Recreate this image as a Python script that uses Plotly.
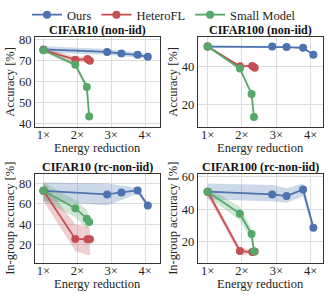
import plotly.graph_objects as go

# ---------------- data ----------------
ours_x = [1.0, 2.88, 3.30, 3.78, 4.08]
hetero_x = [1.0, 1.94, 2.30, 2.37]
small_x = [1.0, 1.94, 2.28, 2.35]

# CIFAR10 (non-iid)
c10_ours = [75.3, 74.1, 73.3, 72.7, 71.8]
c10_ours_lo = [73.8, 72.7, 72.0, 71.5, 70.8]
c10_ours_hi = [76.8, 75.5, 74.6, 73.9, 72.8]
c10_het = [75.0, 70.4, 70.7, 69.9]
c10_het_lo = [74.0, 69.0, 69.4, 69.0]
c10_het_hi = [76.0, 71.8, 72.0, 70.8]
c10_small = [74.9, 68.0, 57.4, 43.4]
c10_small_lo = [74.2, 67.0, 56.0, 42.8]
c10_small_hi = [75.6, 69.0, 58.8, 44.0]

# CIFAR100 (non-iid)
c100_ours = [50.3, 50.3, 50.0, 49.6, 46.0]
c100_ours_lo = [49.8, 49.8, 49.5, 49.1, 45.4]
c100_ours_hi = [50.8, 50.8, 50.5, 50.1, 46.6]
c100_het = [50.3, 40.0, 40.2, 39.3]
c100_het_lo = [49.8, 39.4, 39.6, 38.7]
c100_het_hi = [50.8, 40.6, 40.8, 39.9]
c100_small = [50.3, 38.8, 25.6, 13.5]
c100_small_lo = [49.8, 38.0, 24.8, 12.8]
c100_small_hi = [50.8, 39.6, 26.4, 14.2]

# CIFAR10 (rc-non-iid)
c10rc_ours = [72.9, 69.4, 71.3, 73.3, 58.5]
c10rc_ours_lo = [63.0, 58.5, 64.0, 70.0, 56.0]
c10rc_ours_hi = [81.0, 80.0, 78.0, 76.0, 61.0]
c10rc_het = [72.9, 25.8, 25.5, 25.5]
c10rc_het_lo = [63.0, 14.0, 10.0, 10.0]
c10rc_het_hi = [81.0, 40.0, 38.0, 37.0]
c10rc_small = [72.9, 55.9, 45.6, 42.4]
c10rc_small_lo = [63.0, 47.0, 36.0, 38.0]
c10rc_small_hi = [81.0, 64.0, 54.0, 47.0]

# CIFAR100 (rc-non-iid)
c100rc_ours = [50.9, 49.2, 48.2, 52.3, 28.5]
c100rc_ours_lo = [46.0, 45.0, 44.0, 48.0, 26.0]
c100rc_ours_hi = [56.0, 55.0, 53.0, 56.0, 31.0]
c100rc_het = [50.9, 14.1, 13.5, 13.9]
c100rc_het_lo = [48.0, 12.0, 12.0, 12.5]
c100rc_het_hi = [53.5, 16.0, 15.0, 15.5]
c100rc_small = [50.9, 37.3, 24.7, 13.9]
c100rc_small_lo = [48.0, 33.0, 21.0, 12.5]
c100rc_small_hi = [53.5, 41.5, 28.0, 15.0]

x_ticks = [1, 2, 3, 4]
x_tick_labels = ["1×", "2×", "3×", "4×"]
titles = ["CIFAR10 (non-iid)", "CIFAR100 (non-iid)", "CIFAR10 (rc-non-iid)", "CIFAR100 (rc-non-iid)"]
x_title = "Energy reduction"
y_titles = ["Accuracy [%]", "Accuracy [%]", "In-group accuracy [%]", "In-group accuracy [%]"]
series_names = ["Ours", "HeteroFL", "Small Model"]

# ---------------- style ----------------
W, H = 328, 294
FONT = "Liberation Serif"
TXT = "#222222"
colors = ["#4C72B0", "#C44E52", "#55A868"]
fills = ["rgba(76,114,176,0.28)", "rgba(196,78,82,0.28)", "rgba(85,168,104,0.28)"]

panels = [
    dict(data=[(ours_x, c10_ours, c10_ours_lo, c10_ours_hi),
               (hetero_x, c10_het, c10_het_lo, c10_het_hi),
               (small_x, c10_small, c10_small_lo, c10_small_hi)],
         xpx=(35, 160), ypx=(32.3, 124), xr=[0.75, 4.44], yr=[38.5, 81.3],
         yt=[40, 50, 60, 70, 80], ytx=10),
    dict(data=[(ours_x, c100_ours, c100_ours_lo, c100_ours_hi),
               (hetero_x, c100_het, c100_het_lo, c100_het_hi),
               (small_x, c100_small, c100_small_lo, c100_small_hi)],
         xpx=(197.7, 323.3), ypx=(32.3, 124), xr=[0.71, 4.37], yr=[8.4, 55.4],
         yt=[20, 40], ytx=173),
    dict(data=[(ours_x, c10rc_ours, c10rc_ours_lo, c10rc_ours_hi),
               (hetero_x, c10rc_het, c10rc_het_lo, c10rc_het_hi),
               (small_x, c10rc_small, c10rc_small_lo, c10rc_small_hi)],
         xpx=(35, 160), ypx=(172.3, 262.7), xr=[0.75, 4.44], yr=[2, 89],
         yt=[20, 40, 60, 80], ytx=10),
    dict(data=[(ours_x, c100rc_ours, c100rc_ours_lo, c100rc_ours_hi),
               (hetero_x, c100rc_het, c100rc_het_lo, c100rc_het_hi),
               (small_x, c100rc_small, c100rc_small_lo, c100rc_small_hi)],
         xpx=(197.7, 323.3), ypx=(172.3, 262.7), xr=[0.71, 4.37], yr=[6.6, 61.6],
         yt=[20, 40, 60], ytx=173),
]

fig = go.Figure()
annotations = []
for i, p in enumerate(panels):
    suffix = "" if i == 0 else str(i + 1)
    xa, ya = "x" + suffix, "y" + suffix
    for k, (xs, ys, lo, hi) in enumerate(p["data"]):
        fig.add_trace(go.Scatter(
            x=list(xs) + list(xs)[::-1], y=list(hi) + list(lo)[::-1],
            fill="toself", fillcolor=fills[k], line=dict(width=0),
            mode="lines", hoverinfo="skip", showlegend=False,
            xaxis=xa, yaxis=ya))
    for k, (xs, ys, lo, hi) in enumerate(p["data"]):
        fig.add_trace(go.Scatter(
            x=xs, y=ys, mode="lines+markers", name=series_names[k],
            line=dict(color=colors[k], width=1.8),
            marker=dict(color=colors[k], size=8),
            showlegend=(i == 0), legendgroup=series_names[k],
            xaxis=xa, yaxis=ya))
    x0, x1 = p["xpx"]
    y0, y1 = p["ypx"]
    common = dict(showline=True, linecolor="#333333", linewidth=1, mirror=True,
                  showgrid=True, gridcolor="#dddddd", gridwidth=1, zeroline=False,
                  automargin=False, ticks="", ticklen=0,
                  tickfont=dict(family=FONT, size=12.5, color=TXT))
    fig.update_layout(**{
        ("xaxis" + suffix): dict(
            domain=[x0 / W, x1 / W], anchor=ya, range=p["xr"],
            tickvals=x_ticks, ticktext=x_tick_labels, ticklabelstandoff=-4, **common),
        ("yaxis" + suffix): dict(
            domain=[1 - y1 / H, 1 - y0 / H], anchor=xa, range=p["yr"],
            tickvals=p["yt"], **common),
    })
    # subplot title
    annotations.append(dict(
        text="<b>" + titles[i] + "</b>", x=(x0 + x1) / 2 / W, y=1 - (y0 - 7) / H,
        xref="paper", yref="paper", xanchor="center", yanchor="middle",
        showarrow=False, font=dict(family=FONT, size=12, color="#111111")))
    # x axis title
    annotations.append(dict(
        text=x_title, x=(x0 + x1) / 2 / W, y=1 - (y1 + 21) / H,
        xref="paper", yref="paper", xanchor="center", yanchor="middle",
        showarrow=False, font=dict(family=FONT, size=12.5, color=TXT)))
    # y axis title
    annotations.append(dict(
        text=y_titles[i], x=p["ytx"] / W, y=1 - (y0 + y1) / 2 / H, textangle=-90,
        xref="paper", yref="paper", xanchor="center", yanchor="middle",
        showarrow=False, font=dict(family=FONT, size=12.5, color=TXT)))

fig.update_layout(
    width=W, height=H, autosize=False, margin=dict(l=0, r=0, t=0, b=0, pad=0),
    paper_bgcolor="white", plot_bgcolor="white",
    font=dict(family=FONT, size=12.5, color=TXT),
    annotations=annotations,
    legend=dict(orientation="h", x=0.5, xanchor="center", y=1 - 10 / H, yanchor="middle",
                font=dict(family=FONT, size=12.5), itemwidth=30, tracegroupgap=0,
                bgcolor="rgba(0,0,0,0)"),
)

fig.write_html("out.html", config={"responsive": False, "displayModeBar": False},
               post_script="document.body.style.margin='0';")
